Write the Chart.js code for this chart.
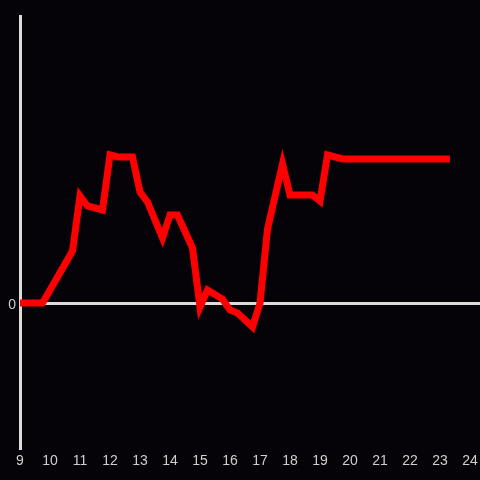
<!DOCTYPE html>
<html>
<head>
<meta charset="utf-8">
<script src="https://cdn.jsdelivr.net/npm/chart.js@4/dist/chart.umd.min.js"></script>
<style>
  html, body { margin: 0; padding: 0; background: #050308; }
  canvas { display: block; }
</style>
</head>
<body>
<canvas id="myChart" width="480" height="480"></canvas>
<script>
// hours of the day (x) and values (y, arbitrary units, 0 = baseline)
const hours = [9, 9.75, 10.75, 11, 11.25, 11.75, 12, 12.25, 12.75, 13, 13.25, 13.75, 14, 14.25, 14.75, 15, 15.25, 15.75, 16, 16.25, 16.75, 17, 17.25, 17.75, 18, 18.75, 19, 19.25, 19.75, 23.33]
const values = [0, 0, 52, 107, 97, 93, 148, 146, 146, 111, 101, 65, 88, 88, 55, -4, 13, 4, -7, -10, -24, 0, 74, 139, 108, 108, 102, 148, 144, 144]
const hourTicks = [9, 10, 11, 12, 13, 14, 15, 16, 17, 18, 19, 20, 21, 22, 23, 24]
const yTicks = [0]

const axisColor = '#dcdcdc'

const ctx = document.getElementById('myChart').getContext('2d')

new Chart(ctx, {
  type: 'line',
  data: {
    datasets: [
      {
        data: hours.map((h, i) => ({ x: h, y: values[i] })),
        borderColor: '#ff0000',
        borderWidth: 7,
        pointRadius: 0,
        tension: 0,
        fill: false
      }
    ]
  },
  options: {
    responsive: false,
    animation: false,
    layout: { padding: { top: 16, left: 0, right: 0, bottom: 0 } },
    plugins: {
      legend: { display: false },
      tooltip: { enabled: false }
    },
    scales: {
      x: {
        type: 'linear',
        min: 9,
        max: 24.333,
        afterBuildTicks: axis => { axis.ticks = hourTicks.map(v => ({ value: v })) },
        afterFit: axis => {
          axis.height = 32
          axis.paddingLeft = 0
          axis.paddingRight = 0
        },
        grid: { display: false, drawTicks: false },
        border: { display: false },
        ticks: {
          color: '#d0d0d0',
          font: { family: 'Liberation Sans', size: 14 },
          padding: 5,
          maxRotation: 0,
          autoSkip: false
        }
      },
      y: {
        min: -145,
        max: 287,
        afterBuildTicks: axis => { axis.ticks = yTicks.map(v => ({ value: v })) },
        afterFit: axis => { axis.width = 20 },
        grid: { color: axisColor, lineWidth: 3, drawTicks: false },
        border: { display: true, color: axisColor, width: 3 },
        ticks: {
          color: '#d0d0d0',
          font: { family: 'Liberation Sans', size: 14 },
          padding: 4,
          labelOffset: 2
        }
      }
    }
  }
})
</script>
</body>
</html>
